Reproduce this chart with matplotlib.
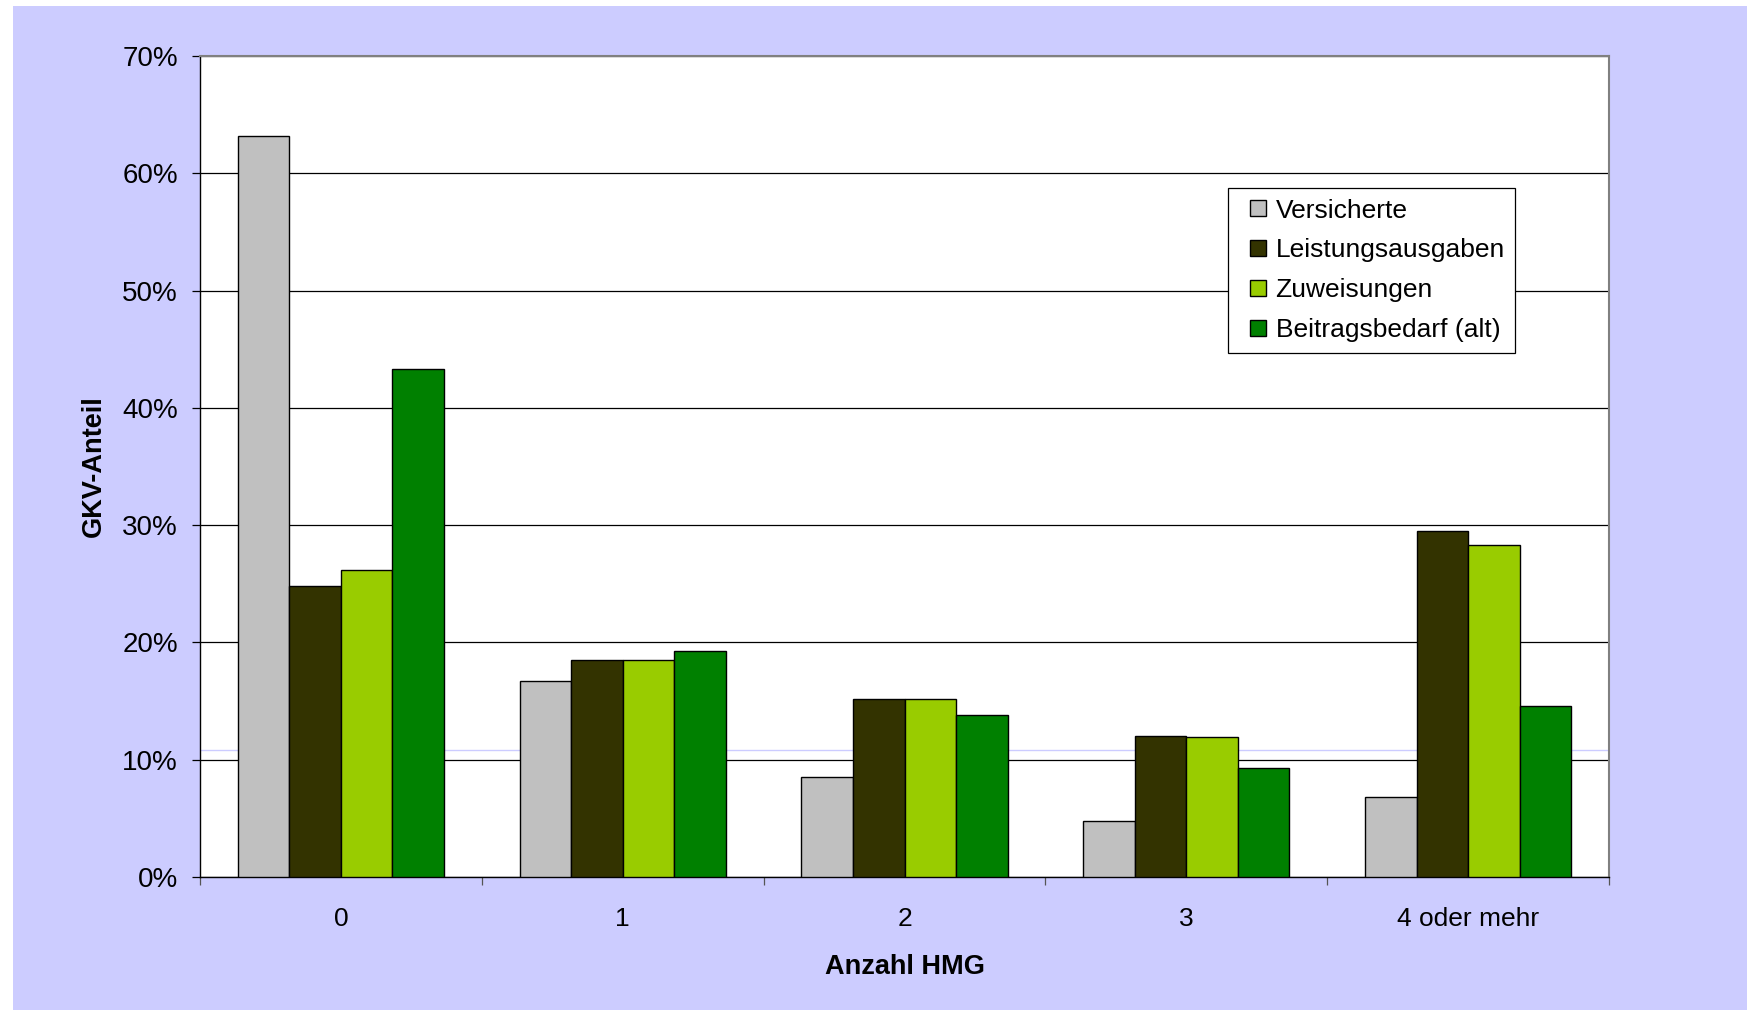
import numpy as np
import matplotlib.pyplot as plt
from matplotlib.patches import Rectangle
from matplotlib.lines import Line2D

plt.rcParams['font.family'] = ['Liberation Sans', 'DejaVu Sans']

# Anteile an der GKV je Anzahl HMG (in %)
categories = ['0', '1', '2', '3', '4 oder mehr']
series_names = ['Versicherte', 'Leistungsausgaben', 'Zuweisungen', 'Beitragsbedarf (alt)']
versicherte = [63.2, 16.7, 8.5, 4.8, 6.8]
leistungsausgaben = [24.8, 18.5, 15.2, 12.0, 29.5]
zuweisungen = [26.2, 18.5, 15.2, 11.9, 28.3]
beitragsbedarf = [43.3, 19.3, 13.8, 9.3, 14.6]
colors = ['#C0C0C0', '#333300', '#99CC00', '#008000']

fig = plt.figure(figsize=(17.47, 10.10), dpi=100)
fig.patch.set_facecolor('white')
# blue chart area with a small white margin at left/top
fig.add_artist(Rectangle((13 / 1747, 0), 1 - 13 / 1747, 1 - 6 / 1010,
                         transform=fig.transFigure, facecolor='#CCCCFF',
                         edgecolor='none', zorder=-10))

ax = fig.add_axes([200 / 1747, 133 / 1010, 1409 / 1747, 821 / 1010])
ax.set_facecolor('white')

x = np.arange(len(categories))
width = 0.183
data = [versicherte, leistungsausgaben, zuweisungen, beitragsbedarf]
for i, (vals, name, c) in enumerate(zip(data, series_names, colors)):
    ax.bar(x + (i - 1.5) * width, vals, width, color=c, edgecolor='black',
           linewidth=1.0, label=name, zorder=3)

ax.set_xlim(-0.5, len(categories) - 0.5)
ax.set_ylim(0, 70)
ax.set_yticks(np.arange(0, 71, 10))
ax.set_yticklabels([f'{v}%' for v in range(0, 71, 10)], fontsize=20)
ax.yaxis.grid(True, color='black', linewidth=0.9, zorder=1)
ax.axhline(10.8, color='#CCCCFF', linewidth=1.0, zorder=2)
ax.set_axisbelow(True)

# ticks on the category borders, labels in the middle
ax.set_xticks(np.arange(-0.5, len(categories)))
ax.set_xticklabels([])
ax.set_xticks(x, minor=True)
ax.set_xticklabels(categories, minor=True, fontsize=19)
ax.tick_params(axis='x', which='major', direction='out', length=6, width=0.9, color='#555555')
ax.tick_params(axis='x', which='minor', length=0, pad=21.5)
ax.tick_params(axis='y', direction='out', length=6, width=0.9, pad=10)

for s in ['top', 'right']:
    ax.spines[s].set_color('#808080')
    ax.spines[s].set_linewidth(1.5)
for s in ['left', 'bottom']:
    ax.spines[s].set_color('black')
    ax.spines[s].set_linewidth(1.0)

ax.set_xlabel('Anzahl HMG', fontsize=19.5, fontweight='bold', labelpad=17)
ax.set_ylabel('GKV-Anteil', fontsize=19.5, fontweight='bold', labelpad=11)

# square markers as legend keys
handles = [Line2D([], [], linestyle='none', marker='s', markersize=11,
                  markerfacecolor=c, markeredgecolor='black', markeredgewidth=1.0)
           for c in colors]
leg = ax.legend(handles, series_names, loc='upper left',
                bbox_to_anchor=(1228 / 1747, 1 - 188 / 1010),
                bbox_transform=fig.transFigure, fontsize=19, frameon=True,
                fancybox=False, edgecolor='black', framealpha=1,
                handlelength=1.5, handletextpad=-0.1,
                labelspacing=0.6, borderpad=0.4, borderaxespad=0)
leg.get_frame().set_linewidth(0.9)

fig.savefig('out.png', dpi=100)
